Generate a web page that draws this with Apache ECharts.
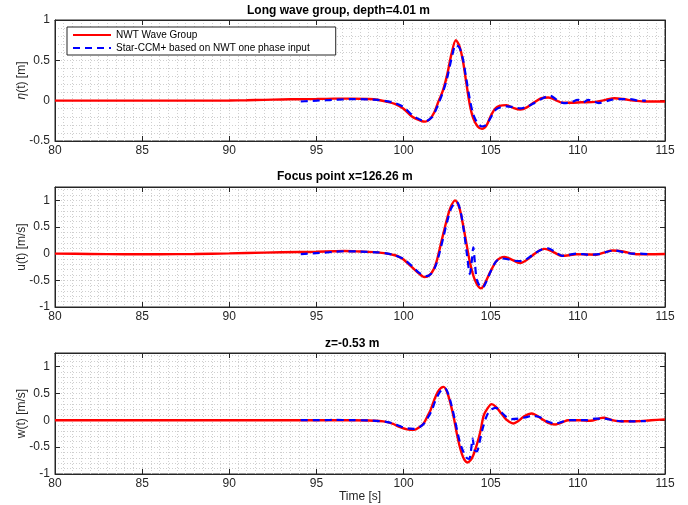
<!DOCTYPE html>
<html>
<head>
<meta charset="utf-8">
<title>Long wave group</title>
<script src="https://cdn.jsdelivr.net/npm/echarts@6/dist/echarts.min.js"></script>
<style>
  html, body { margin: 0; padding: 0; background: #fff; }
  #chart { width: 688px; height: 505px; }
</style>
</head>
<body>
<div id="chart"></div>
<script>
// 时间轴范围和刻度
var tMin = 80, tMax = 115, tStep = 5;

// 面板1：波面 eta(t) [m]
var etaNwt = [[80,0],[82,0],[84,0],[86,0],[88,0],[90,0.002],[91,0.005],[92,0.01],[93,0.015],[94,0.018],[95,0.02],[96,0.025],[97,0.025],[98,0.02],[98.5,0.012],[99,-0.01],[99.5,-0.04],[100,-0.10],[100.5,-0.20],[101,-0.25],[101.25,-0.26],[101.5,-0.23],[101.75,-0.15],[102,-0.01],[102.25,0.12],[102.5,0.32],[102.75,0.58],[103,0.75],[103.2,0.68],[103.4,0.5],[103.6,0.22],[103.8,-0.05],[104,-0.22],[104.25,-0.32],[104.5,-0.35],[104.75,-0.31],[105,-0.19],[105.25,-0.10],[105.5,-0.065],[105.9,-0.055],[106.3,-0.09],[106.7,-0.11],[107.1,-0.08],[107.5,-0.02],[107.9,0.03],[108.3,0.04],[108.7,0.01],[109.1,-0.025],[109.6,-0.025],[110.2,-0.02],[111,-0.015],[111.6,0.01],[112.1,0.03],[112.6,0.02],[113.2,0],[113.8,-0.01],[114.5,-0.01],[115,-0.01]];
var etaStar = [[94.1,-0.01],[94.5,-0.005],[95,0],[95.5,0.005],[96,0.01],[96.5,0.015],[97,0.02],[97.5,0.02],[98,0.015],[98.5,0.01],[99,-0.005],[99.5,-0.03],[100,-0.08],[100.5,-0.18],[101,-0.24],[101.3,-0.25],[101.6,-0.21],[101.8,-0.14],[102,-0.04],[102.25,0.1],[102.5,0.28],[102.75,0.52],[103,0.69],[103.2,0.66],[103.4,0.52],[103.6,0.27],[103.8,0.02],[104,-0.17],[104.25,-0.28],[104.5,-0.32],[104.75,-0.3],[105,-0.21],[105.3,-0.11],[105.6,-0.08],[105.9,-0.07],[106.3,-0.08],[106.7,-0.095],[107.1,-0.07],[107.5,-0.03],[107.9,0.02],[108.4,0.06],[108.8,0.01],[109.2,-0.03],[109.6,-0.02],[110,0.01],[110.3,-0.02],[110.6,0.01],[111.2,-0.03],[111.9,0.01],[112.5,0.02],[113,0.02],[113.5,0],[113.9,0]];

// 面板2：水平速度 u(t) [m/s]
var uNwt = [[80,0],[82,-0.005],[84,-0.01],[86,-0.01],[88,-0.005],[90,0.005],[92,0.02],[94,0.03],[95,0.035],[96,0.045],[96.6,0.05],[97.5,0.04],[98.5,0.025],[99,0.005],[99.5,-0.03],[99.8,-0.07],[100,-0.11],[100.4,-0.23],[100.8,-0.35],[101.2,-0.44],[101.5,-0.4],[101.75,-0.28],[101.9,-0.14],[102.05,0.06],[102.3,0.4],[102.5,0.66],[102.7,0.87],[102.95,1.0],[103.2,0.86],[103.4,0.56],[103.6,0.2],[103.82,-0.18],[104.1,-0.5],[104.43,-0.65],[104.6,-0.6],[104.95,-0.36],[105.3,-0.15],[105.55,-0.08],[105.8,-0.06],[106.2,-0.11],[106.68,-0.175],[107.1,-0.11],[107.45,-0.02],[107.8,0.06],[108.1,0.09],[108.6,0.03],[109.07,-0.04],[109.5,-0.03],[109.9,-0.01],[110.5,-0.015],[111.05,-0.02],[111.5,0.02],[112,0.06],[112.6,0.04],[113.35,-0.01],[114,-0.01],[115,-0.005]];
var uStar = [[94.1,-0.01],[94.5,0],[95,0.01],[95.5,0.02],[96,0.035],[96.6,0.045],[97.5,0.04],[98.5,0.025],[99,0.005],[99.5,-0.03],[100,-0.1],[100.5,-0.24],[100.9,-0.36],[101.3,-0.42],[101.6,-0.37],[101.85,-0.22],[102.05,0],[102.3,0.33],[102.5,0.6],[102.75,0.86],[103.05,0.97],[103.25,0.82],[103.45,0.45],[103.65,-0.05],[103.8,-0.38],[103.92,-0.12],[104,0.12],[104.1,-0.2],[104.2,-0.48],[104.4,-0.62],[104.55,-0.63],[104.75,-0.52],[105,-0.33],[105.3,-0.15],[105.6,-0.09],[105.9,-0.1],[106.3,-0.13],[106.8,-0.14],[107.2,-0.07],[107.6,0.02],[107.95,0.08],[108.3,0.1],[108.7,0.03],[109.1,-0.04],[109.5,-0.02],[109.9,0],[110.3,-0.01],[110.7,-0.02],[111.2,-0.01],[111.6,0.03],[112.1,0.06],[112.6,0.03],[113.1,0],[113.6,0],[114,-0.01]];

// 面板3：垂直速度 w(t) [m/s]
var wNwt = [[80,0],[84,0],[88,0],[92,0],[94,0],[96,0],[97,0],[98,-0.005],[98.6,-0.015],[99,-0.03],[99.4,-0.07],[99.8,-0.13],[100.2,-0.17],[100.6,-0.18],[100.9,-0.13],[101.15,-0.06],[101.35,0.06],[101.55,0.19],[101.75,0.37],[101.95,0.52],[102.15,0.6],[102.3,0.62],[102.5,0.52],[102.7,0.3],[102.9,0.02],[103.05,-0.24],[103.2,-0.46],[103.35,-0.63],[103.5,-0.74],[103.67,-0.785],[103.85,-0.74],[104,-0.65],[104.2,-0.46],[104.4,-0.22],[104.6,0.09],[104.8,0.21],[105.05,0.3],[105.3,0.25],[105.55,0.15],[105.9,0.01],[106.3,-0.06],[106.6,-0.01],[106.9,0.07],[107.35,0.125],[107.9,0.03],[108.3,-0.05],[108.7,-0.08],[109.1,-0.04],[109.45,0],[110.1,0],[110.7,-0.01],[111.45,0.045],[112,0],[112.4,-0.02],[113.35,-0.02],[114.2,0],[115,0.015]];
var wStar = [[94.1,0],[94.5,0],[95,0],[95.5,0.003],[96,0.005],[97,0.003],[98,-0.005],[98.6,-0.015],[99,-0.03],[99.4,-0.06],[99.8,-0.11],[100.2,-0.15],[100.6,-0.16],[100.95,-0.12],[101.2,-0.05],[101.4,0.05],[101.6,0.17],[101.8,0.34],[102,0.48],[102.2,0.57],[102.38,0.59],[102.55,0.5],[102.75,0.28],[102.95,0],[103.1,-0.23],[103.25,-0.43],[103.45,-0.6],[103.62,-0.7],[103.76,-0.72],[103.87,-0.56],[103.96,-0.34],[104.07,-0.55],[104.2,-0.58],[104.35,-0.42],[104.55,-0.14],[104.8,0.1],[105.05,0.2],[105.3,0.23],[105.6,0.15],[105.9,0.06],[106.2,0.02],[106.6,0.03],[106.95,0.05],[107.4,0.08],[107.8,0.06],[108.3,-0.03],[108.7,-0.06],[109.1,-0.03],[109.5,0],[110,0],[110.5,0],[111,0.03],[111.5,0.03],[112,0],[112.6,-0.02],[113.2,-0.02],[113.9,-0.015]];

// 每个面板的标题、纵轴名和纵轴范围
var titles = ['Long wave group, depth=4.01 m', 'Focus point x=126.26 m', 'z=-0.53 m'];
var yNames = ['{i|\u03b7}(t) [m]', 'u(t) [m/s]', 'w(t) [m/s]'];
var yMins = [-0.5, -1, -1];
var yMaxs = [1, 1.25, 1.25];
var nameNwt = 'NWT Wave Group';
var nameStar = 'Star-CCM+ based on NWT one phase input';

var font = 'Liberation Sans, Arial, Helvetica, sans-serif';
var axisColor = '#262626';
var gridLine = { show: true, lineStyle: { color: '#cfcfcf', type: [1, 2], width: 1 } };

var grids = [
    { left: 55, width: 610, top: 20, height: 121 },
    { left: 55, width: 610, top: 187, height: 120 },
    { left: 55, width: 610, top: 353, height: 121 }
];
var titleLeft = [247, 277, 325];
var titleTop = [5, 171, 338];

var xAxes = [], yAxes = [], series = [], titleArr = [];
var panels = [[etaNwt, etaStar], [uNwt, uStar], [wNwt, wStar]];

for (let i = 0; i < 3; i++) {
    grids[i].show = true;
    grids[i].borderColor = axisColor;
    grids[i].borderWidth = 1;
    grids[i].backgroundColor = '#fff';

    titleArr.push({
        text: titles[i], left: titleLeft[i], top: titleTop[i], padding: 0,
        textStyle: { fontFamily: font, fontSize: 12, fontWeight: 'bold', color: '#000' }
    });

    // 底部横轴（带刻度标签和网格线）
    xAxes.push({
        type: 'value', gridIndex: i, min: tMin, max: tMax, interval: tStep, position: 'bottom',
        axisLine: { show: true, onZero: false, lineStyle: { color: axisColor } },
        axisTick: { show: true, inside: true, length: 5, lineStyle: { color: axisColor } },
        axisLabel: { show: true, margin: 4, color: axisColor, fontFamily: font, fontSize: 12 },
        splitLine: gridLine,
        minorTick: { show: false, splitNumber: 10 },
        minorSplitLine: gridLine,
        name: i === 2 ? 'Time [s]' : '',
        nameLocation: 'middle', nameGap: 17, nameMoveOverlap: false,
        nameTextStyle: { color: axisColor, fontFamily: font, fontSize: 12 }
    });
    // 顶部镜像横轴，只画刻度
    xAxes.push({
        type: 'value', gridIndex: i, min: tMin, max: tMax, interval: tStep, position: 'top',
        axisLine: { show: true, onZero: false, lineStyle: { color: axisColor } },
        axisTick: { show: true, inside: true, length: 5, lineStyle: { color: axisColor } },
        axisLabel: { show: false }, splitLine: { show: false }
    });

    // 左侧纵轴
    yAxes.push({
        type: 'value', gridIndex: i, min: yMins[i], max: yMaxs[i], interval: 0.5, position: 'left',
        axisLine: { show: true, onZero: false, lineStyle: { color: axisColor } },
        axisTick: { show: true, inside: true, length: 5, lineStyle: { color: axisColor } },
        axisLabel: {
            show: true, margin: 5, color: axisColor, fontFamily: font, fontSize: 12,
            formatter: function (v) {
                return Math.abs(v * 2 - Math.round(v * 2)) < 1e-9 ? String(v) : '';
            }
        },
        splitLine: { show: false },
        name: yNames[i], nameLocation: 'middle', nameGap: 27, nameMoveOverlap: false,
        nameTextStyle: {
            color: axisColor, fontFamily: font, fontSize: 12,
            rich: { i: { fontStyle: 'italic', fontFamily: font, fontSize: 12, color: axisColor } }
        }
    });
    // 右侧镜像纵轴
    yAxes.push({
        type: 'value', gridIndex: i, min: yMins[i], max: yMaxs[i], interval: 0.5, position: 'right',
        axisLine: { show: true, onZero: false, lineStyle: { color: axisColor } },
        axisTick: { show: true, inside: true, length: 5, lineStyle: { color: axisColor } },
        axisLabel: { show: false }, splitLine: { show: false }
    });
    // 隐藏纵轴，只用来画 0.1 间隔的点状网格
    yAxes.push({
        type: 'value', gridIndex: i, min: yMins[i], max: yMaxs[i], interval: 0.1, position: 'left',
        axisLine: { show: false, onZero: false }, axisTick: { show: false }, axisLabel: { show: false },
        splitLine: gridLine
    });

    series.push({
        name: nameNwt, type: 'line', xAxisIndex: i * 2, yAxisIndex: i * 3,
        data: panels[i][0], symbol: 'none', smooth: 0.3, z: 3,
        lineStyle: { color: '#ff0000', width: 2.4 }, itemStyle: { color: '#ff0000' }
    });
    series.push({
        name: nameStar, type: 'line', xAxisIndex: i * 2, yAxisIndex: i * 3,
        data: panels[i][1], symbol: 'none', smooth: 0.3, z: 4,
        lineStyle: { color: '#0000ff', width: 2.2, type: [7, 5] }, itemStyle: { color: '#0000ff' }
    });
}

var chart = echarts.init(document.getElementById('chart'));
chart.setOption({
    backgroundColor: '#fff',
    animation: false,
    title: titleArr,
    legend: {
        data: [nameNwt, nameStar],
        orient: 'vertical', left: 67, top: 27,
        padding: [3, 26, 2, 5], itemGap: 3,
        itemWidth: 38, itemHeight: 12,
        itemStyle: { opacity: 0 },
        backgroundColor: '#fff', borderColor: axisColor, borderWidth: 1,
        textStyle: { fontFamily: font, fontSize: 10, color: '#000' },
        z: 10
    },
    grid: grids,
    xAxis: xAxes,
    yAxis: yAxes,
    series: series
});
</script>
</body>
</html>
